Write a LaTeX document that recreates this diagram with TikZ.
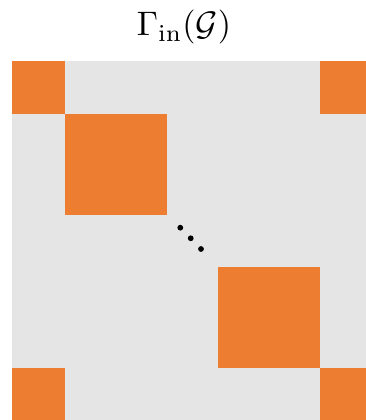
\documentclass[tikz,border=0pt]{standalone}
\definecolor{blockorange}{HTML}{ED7D31}
\definecolor{bggray}{HTML}{E5E5E5}
\tikzset{
  blockfill/.style={fill=blockorange, draw=none},
  bgfill/.style={fill=bggray, draw=none},
  dotmark/.style={fill=black, draw=none},
}
\begin{document}
\begin{tikzpicture}[x=1pt,y=1pt]
\useasboundingbox (0,0) rectangle (366,420);
\path[bgfill] (12,0) rectangle (366,359);
\path[blockfill] (12,306) rectangle (65,359);
\path[blockfill] (65,205) rectangle (167,306);
\path[blockfill] (218,52) rectangle (320,153);
\path[blockfill] (320,306) rectangle (366,359);
\path[blockfill] (12,0) rectangle (65,52);
\path[blockfill] (320,0) rectangle (366,52);
\path[dotmark] (180.3,192.3) circle (2.9);
\path[dotmark] (190.7,181.7) circle (2.9);
\path[dotmark] (201,171) circle (2.9);
\node[anchor=base, inner sep=0pt, scale=3.4] (title) at (184,384) {$\Gamma_{\mathrm{in}}(\mathcal{G})$};
\end{tikzpicture}
\end{document}
